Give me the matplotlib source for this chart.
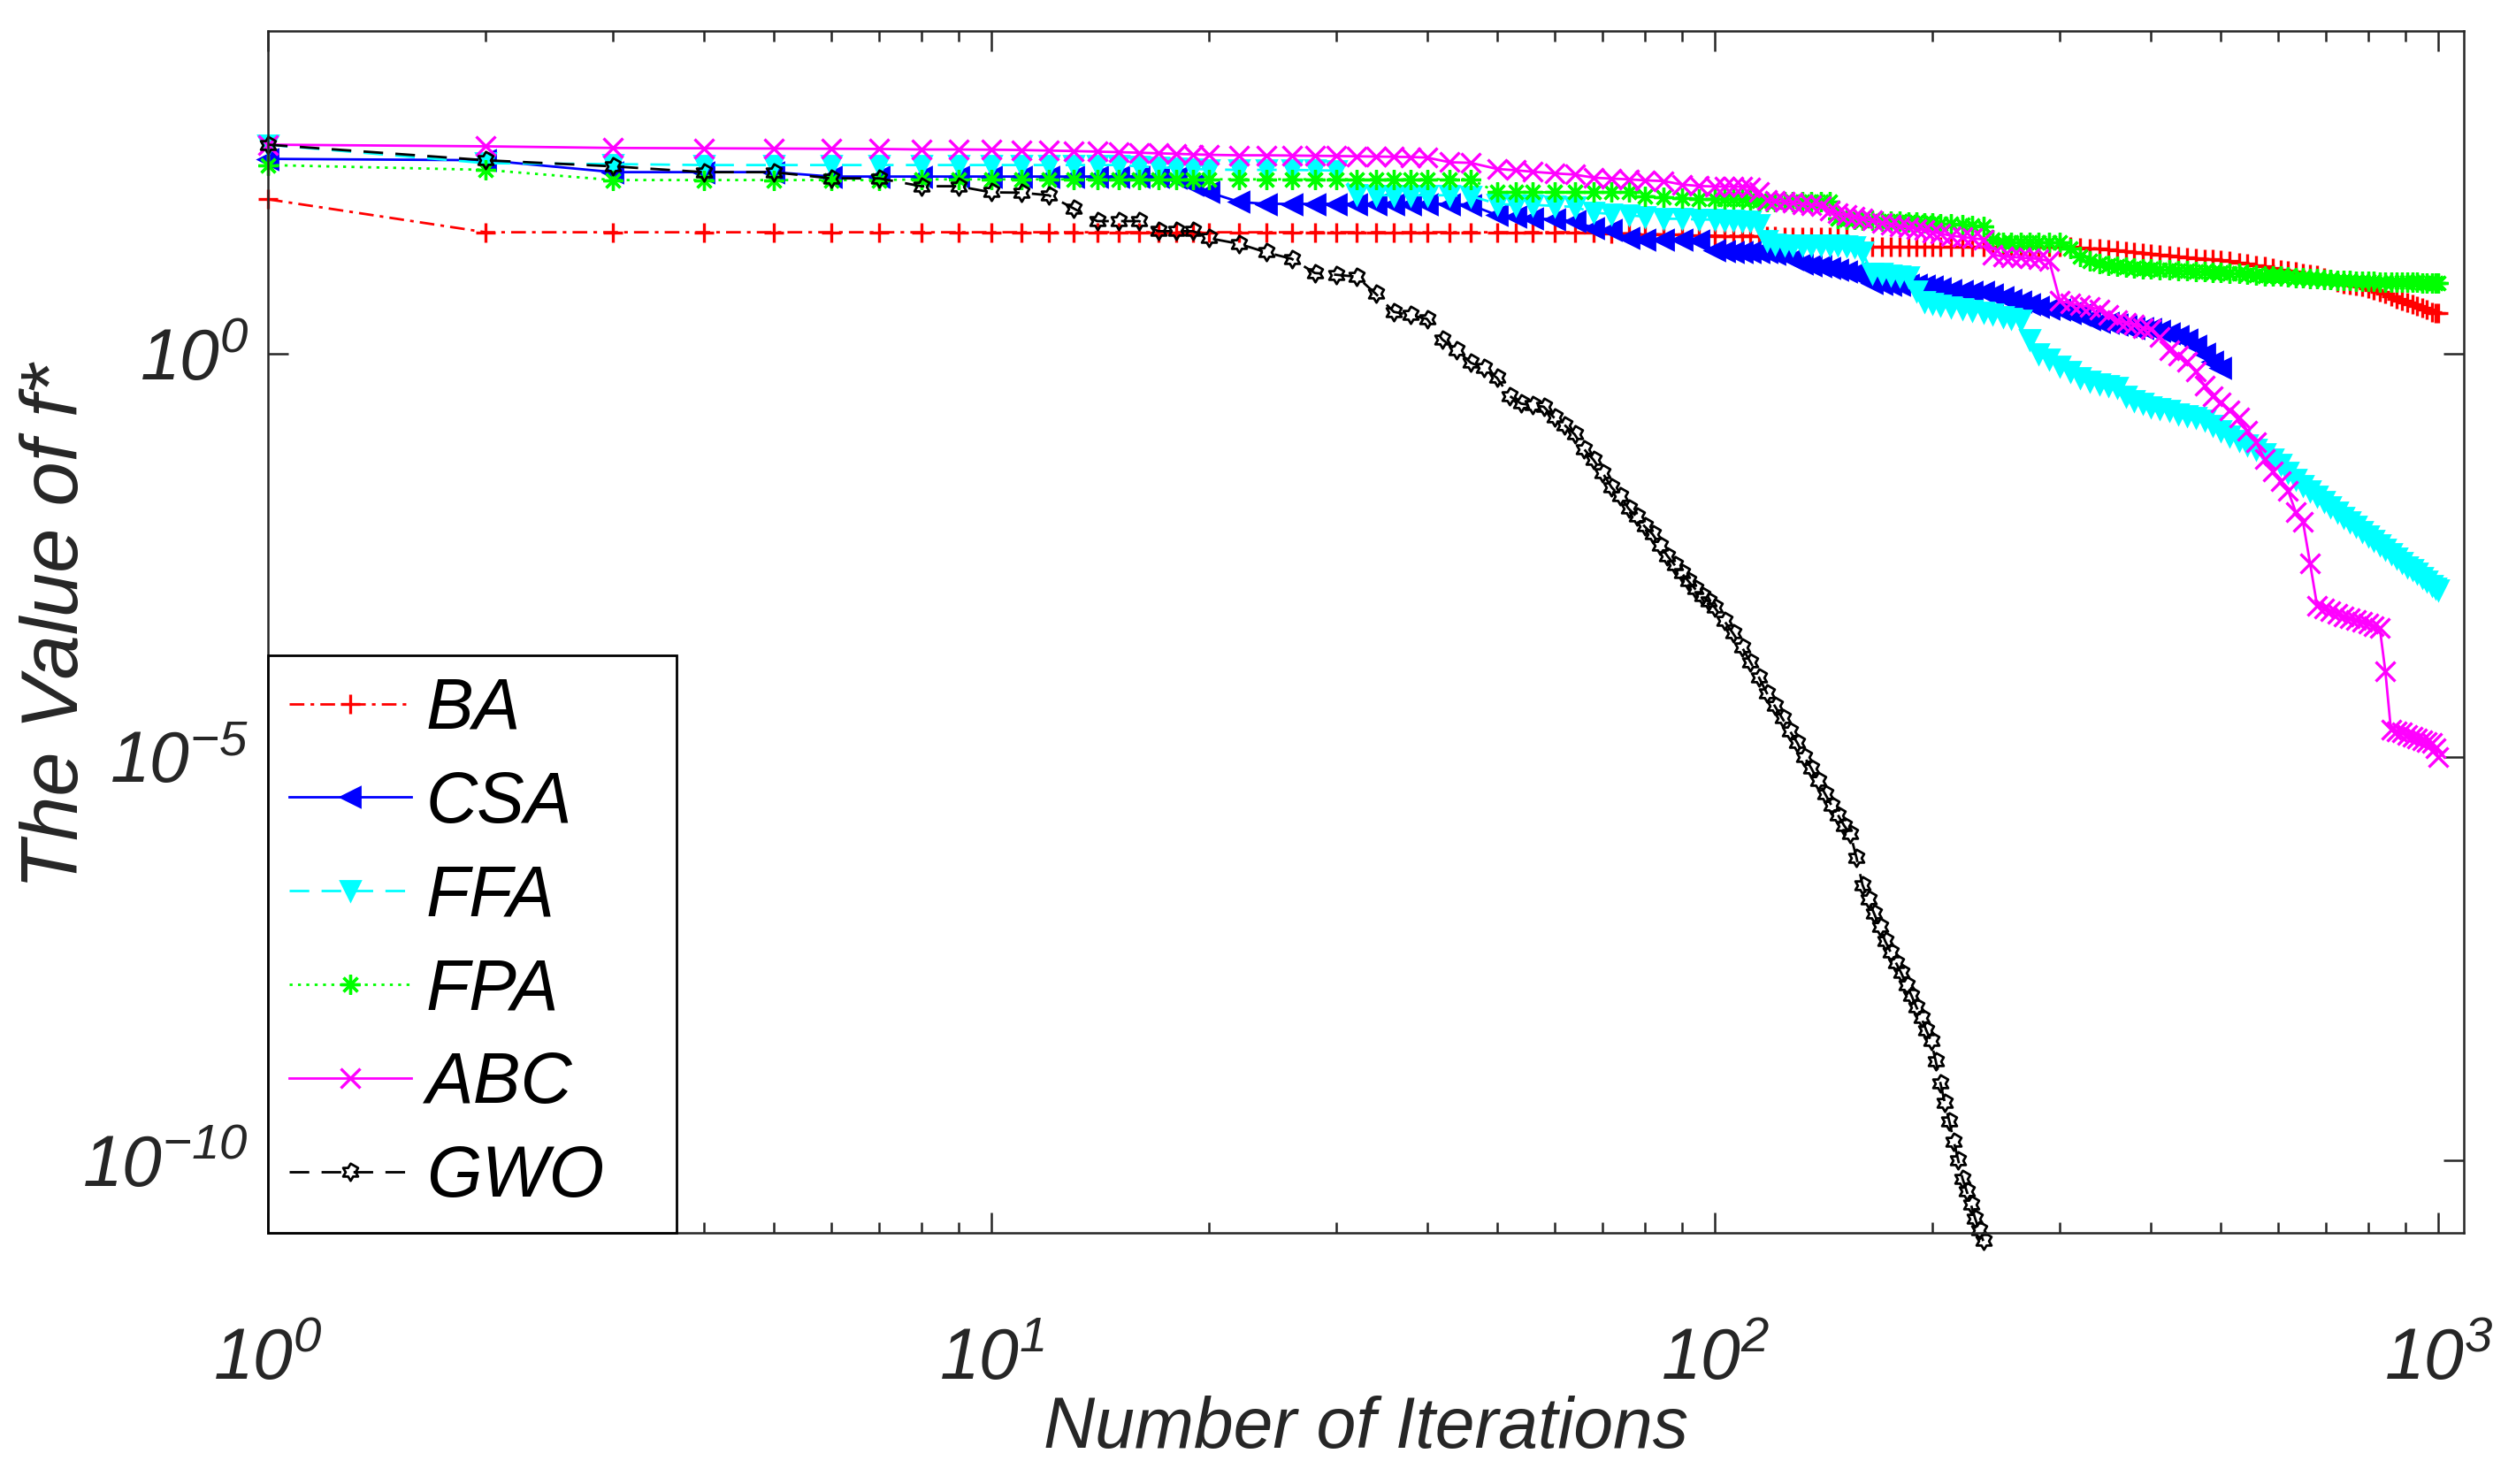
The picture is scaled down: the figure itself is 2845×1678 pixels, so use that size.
import numpy as np
import matplotlib
matplotlib.use('Agg')
import matplotlib.pyplot as plt
from matplotlib.path import Path
from matplotlib.ticker import LogLocator, NullLocator, NullFormatter

plt.rcParams['font.family'] = ['Liberation Sans', 'DejaVu Sans']
plt.rcParams['font.style'] = 'italic'
plt.rcParams['mathtext.fontset'] = 'custom'
plt.rcParams['mathtext.rm'] = 'Liberation Sans:italic'
plt.rcParams['mathtext.it'] = 'Liberation Sans:italic'
plt.rcParams['mathtext.default'] = 'rm'
plt.rcParams['lines.scale_dashes'] = False

# iterations at which the curves were read (shared by BA, CSA, FFA, FPA, ABC)
iters = [1, 2, 3, 4, 5, 6, 7, 8, 9, 10, 11, 12, 13, 14, 15, 16, 17, 18, 19, 20,
         22, 24, 26, 28, 30, 32, 34, 36, 38, 40, 43, 46, 50, 53, 56, 60, 64, 68, 72, 76, 80, 85, 90, 95, 100,
         103, 106, 109, 112, 115, 118, 121, 125, 128, 132, 136, 140, 144, 148,
         152, 156, 160, 165, 170, 175, 180, 185, 190, 195, 200, 205, 212, 220, 227, 235,
         242, 250, 257, 265, 272, 280, 290, 300,
         310, 320, 330, 340, 350, 360, 370, 380, 390, 400, 412, 425, 437, 450, 462, 475, 487, 500,
         515, 530, 545, 560, 575, 590, 605, 620, 635, 650, 665, 680, 695, 710, 725, 740, 755, 770,
         785, 800, 815, 830, 845, 860, 875, 890, 905, 920, 935, 950, 965, 980, 990, 1000]

ba = [82, 32, 32, 32, 32, 32, 32, 32, 32, 32, 32, 32, 32, 32, 32, 32, 32, 32, 32, 32,
      32, 32, 32, 32, 32, 32, 32, 32, 32, 32, 32, 32, 32, 32, 32, 32, 32, 31.5, 31, 31, 30.5, 30, 30, 29.5, 29,
      29, 29, 29, 29, 29, 29, 28.5, 28, 28, 28, 28, 28, 28, 28,
      28, 21, 21, 21, 21, 21, 21, 21, 21, 21, 21, 21, 21, 21, 21, 21,
      21, 21, 21, 21, 21, 21, 21, 21,
      21, 20.5, 20.3, 20, 19.5, 19, 18.5, 18, 17.8, 17.5, 17, 16.5, 16, 15.5, 15.2, 15, 14.8, 14.5,
      14, 13.5, 13, 12.5, 12, 11.5, 11.1, 10.8, 10.4, 10, 9.7, 9.4, 8.8, 8.3, 7.8, 7.4, 7.2, 7.0,
      6.8, 6.5, 6.2, 5.9, 5.5, 5.1, 4.8, 4.5, 4.3, 4.1, 3.9, 3.7, 3.5, 3.3, 3.2, 3.15]

csa = [260, 250, 178, 178, 178, 157, 157, 157, 157, 157, 157, 157, 157, 157, 157, 157, 157, 150, 125, 100,
       76, 72, 72, 72, 72, 72, 72, 72, 72, 72, 72, 70, 52, 50, 48, 46, 44, 36, 34, 27, 26, 26, 26, 25, 19,
       18.5, 18, 18, 18, 18, 18, 17.5, 17, 15, 13, 12.5, 12, 11.5, 11,
       10.5, 10, 9, 7.5, 7.3, 7.2, 7.2, 7.2, 7.1, 7.0, 6.8, 6.5, 6.2, 6.0, 5.9, 5.8,
       5.4, 5.0, 4.7, 4.4, 4.1, 3.8, 3.6, 3.5,
       3.2, 3.0, 2.7, 2.5, 2.4, 2.3, 2.2, 2.1, 2.05, 2.0, 1.9, 1.8, 1.65, 1.5, 1.25, 1.0, 0.8, 0.66]

ffa = [390, 230, 224, 218, 218, 218, 218, 218, 218, 218, 218, 218, 218, 218, 218, 210, 205, 200, 195, 192,
       190, 190, 190, 188, 186, 95, 92, 92, 92, 92, 92, 90, 72, 70, 70, 68, 66, 56, 54, 52, 50, 47, 47, 46, 46,
       45, 45, 44, 44, 40, 25, 23, 22, 22, 22, 22, 22, 22, 22,
       21.5, 21, 18, 10, 9.8, 9.5, 9.2, 9.0, 6, 4.4, 4.2, 4.0, 3.8, 3.6, 3.4, 3.3,
       3.1, 2.9, 2.75, 2.6, 1.5, 1.0, 0.85, 0.7,
       0.6, 0.5, 0.46, 0.42, 0.4, 0.38, 0.3, 0.26, 0.24, 0.22, 0.21, 0.2, 0.18, 0.17, 0.16, 0.15, 0.13, 0.11,
       0.095, 0.085, 0.075, 0.065, 0.057, 0.05, 0.042, 0.034, 0.028, 0.023, 0.02, 0.017, 0.0146, 0.0126,
       0.011, 0.0094, 0.0082, 0.0072, 0.0063, 0.0055, 0.0049, 0.0043, 0.0038, 0.0033, 0.0029, 0.0026,
       0.0023, 0.0021, 0.0019, 0.0017, 0.0015, 0.00135, 0.00125, 0.00118]

fpa = [218, 190, 142, 142, 142, 142, 142, 145, 145, 145, 145, 145, 145, 145, 145, 145, 145, 145, 145, 145,
       145, 145, 145, 145, 145, 145, 145, 145, 145, 145, 145, 145, 100, 100, 100, 100, 100, 100, 100, 100,
       90, 88, 85, 83, 83,
       83, 83, 82, 80, 78, 77, 77, 77, 77, 77, 77, 77, 77, 47,
       46.5, 46, 45.5, 45, 44.5, 44, 43.5, 43, 42.5, 42, 41.5, 41, 40.5, 40, 39, 38,
       26, 24, 24, 24, 24, 24, 24, 24,
       20, 16, 14, 13, 12.5, 12, 11.7, 11.5, 11.3, 11.2, 11.1, 11, 10.8, 10.7, 10.5, 10.4, 10.3, 10.2,
       10, 9.8, 9.6, 9.5, 9.3, 9.2, 9.1, 9.0, 8.8, 8.7, 8.6, 8.5, 8.4, 8.3, 8.2, 8.1, 8.05, 8.0,
       7.95, 7.9, 7.85, 7.8, 7.78, 7.75, 7.72, 7.7, 7.68, 7.65, 7.62, 7.6, 7.58, 7.55, 7.52, 7.5]

abc = [390, 372, 355, 352, 350, 347, 345, 340, 340, 338, 335, 330, 325, 320, 315, 310, 305, 300, 296, 292,
       288, 288, 286, 284, 282, 280, 278, 276, 274, 270, 236, 232, 195, 188, 180, 172, 166, 152, 148, 145,
       141, 138, 125, 120, 118,
       118, 118, 117, 116, 100, 80, 78, 76, 74, 72, 70, 68, 60, 55,
       52, 50, 47, 45, 42, 40, 38, 37, 35, 34, 32, 31, 29, 28, 27, 26,
       17, 16, 15.8, 15.5, 15.2, 15, 14, 4.5,
       4.2, 4.0, 3.8, 3.5, 3.0, 2.6, 2.4, 2.3, 2.1, 2.0, 1.6, 1.1, 0.95, 0.8, 0.6, 0.4, 0.3, 0.25,
       0.2, 0.16, 0.11, 0.08, 0.05, 0.035, 0.026, 0.02, 0.011, 0.0083, 0.0025, 7.5e-4, 7e-4, 6.5e-4,
       6e-4, 5.5e-4, 5.2e-4, 5e-4, 4.7e-4, 4.5e-4, 4.2e-4, 4e-4, 1.15e-4, 2.2e-5, 2.1e-5, 2e-5,
       1.9e-5, 1.8e-5, 1.7e-5, 1.6e-5, 1.55e-5, 1.5e-5, 1.3e-5, 1.0e-5]

# GWO was read more densely because it falls steeply
gwo_iters = [1, 2, 3, 4, 5, 6, 7, 8, 9, 10, 11, 12, 13, 14, 15, 16, 17, 18, 19, 20,
             22, 24, 26, 28, 30, 32, 34, 36, 38, 40,
             42, 44, 46, 48, 50, 52, 54, 56, 58, 60, 62, 64, 66, 68, 70, 72, 74, 76, 78, 80,
             82, 84, 86, 88, 90, 92, 94, 96, 98, 100,
             103, 106, 109, 112, 115, 118, 121, 124, 127, 130, 133, 136, 139, 142, 145,
             148, 151, 154, 157, 160, 163, 166, 169, 172, 175, 178, 181, 184, 187, 190,
             193, 196, 199, 202, 205, 208, 211, 214, 217, 220, 223, 226, 229, 232, 235]
gwo = [390, 250, 210, 178, 178, 149, 149, 119, 119, 100, 99, 92, 63, 44, 44, 44, 33, 33, 33, 27,
       23, 18, 15, 10, 9.5, 9.0, 5.5, 3.3, 3.0, 2.7,
       1.5, 1.1, 0.77, 0.66, 0.5, 0.3, 0.24, 0.23, 0.22, 0.16, 0.13, 0.1, 0.065, 0.048, 0.033,
       0.022, 0.017, 0.012, 0.0095, 0.0072, 0.0058, 0.0042, 0.0031, 0.0024, 0.0019, 0.0015,
       0.0012, 0.001, 8.5e-4, 7.1e-4,
       4.9e-4, 3.4e-4, 2.3e-4, 1.5e-4, 9.8e-5, 6.2e-5, 4.3e-5, 3.0e-5, 2.1e-5, 1.5e-5, 1.0e-5,
       7.2e-6, 5.0e-6, 3.5e-6, 2.5e-6, 1.9e-6, 1.4e-6, 1.1e-6, 5.6e-7, 2.6e-7, 1.7e-7, 1.15e-7,
       7.8e-8, 5.2e-8, 3.8e-8, 2.8e-8, 2.1e-8, 1.5e-8, 1.1e-8, 7.9e-9, 5.8e-9, 4.1e-9, 3.0e-9,
       1.7e-9, 9.1e-10, 5.1e-10, 3.0e-10, 1.7e-10, 1.0e-10, 5.9e-11, 4.1e-11, 2.8e-11, 1.9e-11,
       1.35e-11, 1.0e-11]

labels = ['BA', 'CSA', 'FFA', 'FPA', 'ABC', 'GWO']

# six pointed star like matlab's hexagram
ang = np.arange(12) * np.pi / 6 + np.pi / 2
rad = np.where(np.arange(12) % 2 == 0, 1.0, 0.577)
hexagram = Path(np.column_stack([rad * np.cos(ang), rad * np.sin(ang)]), closed=True)

grey = '#262626'
fig = plt.figure(figsize=(2845 / 200, 1678 / 200), dpi=200)
ax = fig.add_axes([0.1065, 0.1692, 0.8728, 0.8099])
ax.set_xscale('log')
ax.set_yscale('log')

lw = 1.0
ms = 8
ax.plot(iters, ba, color='r', ls=(0, (6, 2.5, 1.5, 2.5)), lw=lw, marker='+', ms=ms, mew=1.2,
        label=labels[0], clip_on=False)
ax.plot(iters[:len(csa)], csa, color='b', ls='-', lw=lw, marker='<', ms=ms, mew=1.0,
        label=labels[1], clip_on=False)
ax.plot(iters, ffa, color=(0, 1, 1), ls=(0, (8, 5)), lw=lw, marker='v', ms=ms, mew=1.0,
        label=labels[2], clip_on=False)
ax.plot(iters, fpa, color=(0, 1, 0), ls=(0, (1.2, 2.2)), lw=lw, marker=(8, 2, 0), ms=ms, mew=1.2,
        label=labels[3], clip_on=False)
ax.plot(iters, abc, color=(1, 0, 1), ls='-', lw=lw, marker='x', ms=ms, mew=1.2,
        label=labels[4], clip_on=False)
ax.plot(gwo_iters, gwo, color='k', ls=(0, (8, 5)), lw=lw, marker=hexagram, ms=7, mew=1.0,
        mfc='none', label=labels[5], clip_on=False)

ax.set_xlim(1, 1085)
ax.set_ylim(10 ** -10.9, 1e4)

ax.set_xticks([1, 10, 100, 1000])
ax.set_xticklabels([r'$10^{0}$', r'$10^{1}$', r'$10^{2}$', r'$10^{3}$'])
ax.xaxis.set_minor_locator(LogLocator(base=10, subs=np.arange(2, 10)))
ax.xaxis.set_minor_formatter(NullFormatter())
ax.set_yticks([1e-10, 1e-5, 1])
ax.set_yticklabels([r'$10^{-10}$', r'$10^{-5}$', r'$10^{0}$'])
ax.yaxis.set_minor_locator(NullLocator())

ax.tick_params(which='both', direction='in', top=True, right=True, color=grey, width=0.9,
               labelsize=29, labelcolor=grey)
ax.tick_params(which='major', length=8.3)
ax.tick_params(which='minor', length=4.3)
ax.tick_params(axis='x', pad=38)
ax.tick_params(axis='y', pad=8)
for s in ax.spines.values():
    s.set_color(grey)
    s.set_linewidth(0.9)

ax.set_xlabel('Number of Iterations', fontsize=29, color=grey)
ax.xaxis.set_label_coords(0.5, -0.135)
ax.set_ylabel('The Value of f*', fontsize=32.5, color=grey)
ax.yaxis.set_label_coords(-0.079, 0.505)

leg = ax.legend(loc='lower left', bbox_to_anchor=(0, 0, 0.186, 0.48), mode='expand',
                fontsize=29, frameon=True, fancybox=False, edgecolor='k', framealpha=1,
                borderaxespad=0, borderpad=0.3, labelspacing=0.37, handlelength=1.71,
                handletextpad=0.21)
leg.get_frame().set_linewidth(1.0)

fig.savefig('out.png', dpi=200)
